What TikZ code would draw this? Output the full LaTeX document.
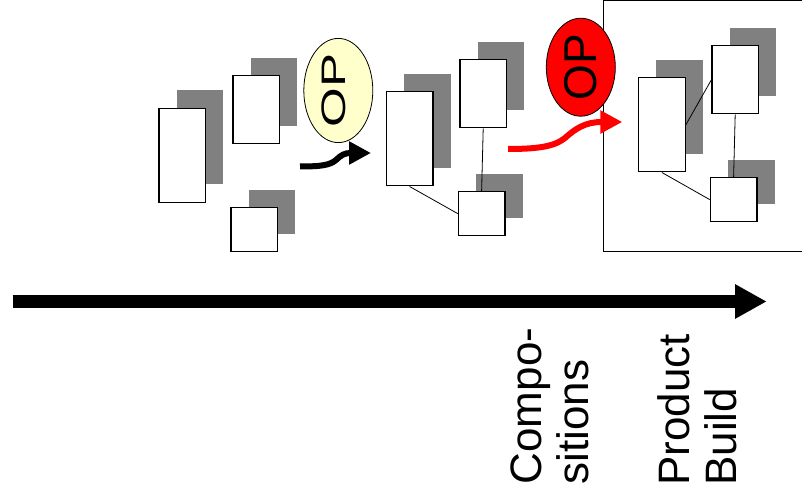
\documentclass[tikz,border=0pt]{standalone}
\usepackage{fontspec}
\usepackage{graphicx}
\setmainfont{Liberation Sans}
\usetikzlibrary{shapes.geometric,arrows.meta,shadows}

\definecolor{shadowgray}{HTML}{808080}
\definecolor{opyellow}{HTML}{FFFFCC}
\definecolor{opred}{HTML}{FF0000}

\begin{document}
\begin{tikzpicture}[x=1pt,y=-1pt,
  block/.style={draw=black, line width=1.2pt, fill=white, inner sep=0pt,
    anchor=north west, minimum width=46.6pt,
    general shadow={fill=shadowgray, shadow xshift=17.6pt, shadow yshift=17.8pt}},
  tallbox/.style={block, minimum height=94pt},
  midbox/.style={block, minimum height=68pt},
  sqbox/.style={block, minimum height=44pt},
  link/.style={draw=black, line width=0.8pt},
  opnode/.style={ellipse, draw=black, line width=0.8pt, rotate=90,
    minimum width=98pt, minimum height=69pt, inner sep=0pt},
  flow/.style={line width=6pt, -{Triangle[length=22pt,width=22pt]}},
  stagetext/.style={rotate=90, align=left, inner sep=0pt, anchor=south west,
    font=\fontsize{44}{47}\selectfont}
]
% canvas
\fill[white] (0,0) rectangle (802,502);
\useasboundingbox (0,0) rectangle (802,502);

% product build frame (its right side runs past the page edge)
\draw[line width=1.2pt] (603.3,0.6) rectangle (812,251.5);

% stage 1: loose components
\node[tallbox] (s1a) at (158.3,107.7) {};
\node[midbox]  (s1b) at (232.3,75.3) {};
\node[sqbox]   (s1c) at (230.3,207.3) {};

% stage 2: composition
\node[tallbox] (s2a) at (385.7,91.3) {};
\node[midbox]  (s2b) at (459.3,59.3) {};
\node[sqbox]   (s2c) at (457.7,191) {};
\draw[link] (s2a.south) -- (s2c.west);
\draw[link] (s2b.south) -- (s2c.north);

% stage 3: product build
\node[tallbox] (s3a) at (638,77.3) {};
\node[midbox]  (s3b) at (711.3,45.3) {};
\node[sqbox]   (s3c) at (709.7,177) {};
\draw[link] (s3a.east) -- (s3b.west);
\draw[link] (s3a.south) -- (s3c.west);
\draw[link] (s3b.south) -- (s3c.north);

% operators
\node[opnode, fill=opyellow, font=\fontsize{34}{40}\selectfont, text depth=10pt]
  (op1) at (338.3,90.5) {\scalebox{1.5}[1]{OP}\hspace{10pt}};
\node[opnode, fill=opred, font=\fontsize{46}{50}\selectfont]
  (op2) at (580.8,67.2) {OP};

% operator arrows
\coordinate (f1s) at (300,166.5);
\coordinate (f1e) at (371,153);
\draw[flow, black] (f1s) .. controls (322,166.5) and (330,165) .. (336,160)
  .. controls (341,155) and (345,153) .. (f1e);

\coordinate (f2s) at (508,149);
\coordinate (f2e) at (622.3,122);
\draw[flow, opred] (f2s) .. controls (540,149) and (555,146) .. (565,138)
  .. controls (575,129) and (585,122) .. (f2e);

% time axis
\coordinate (axs) at (12.7,301.5);
\coordinate (axe) at (766.7,301.5);
\draw[line width=12.4pt, -{Triangle[length=31.7pt,width=32.4pt]}] (axs) -- (axe);

% stage captions
\node[stagetext] (cap1) at (589,484.5) {Compo-\\sitions};
\node[stagetext] (cap2) at (737.3,486) {Product\\Build};
\end{tikzpicture}
\end{document}
